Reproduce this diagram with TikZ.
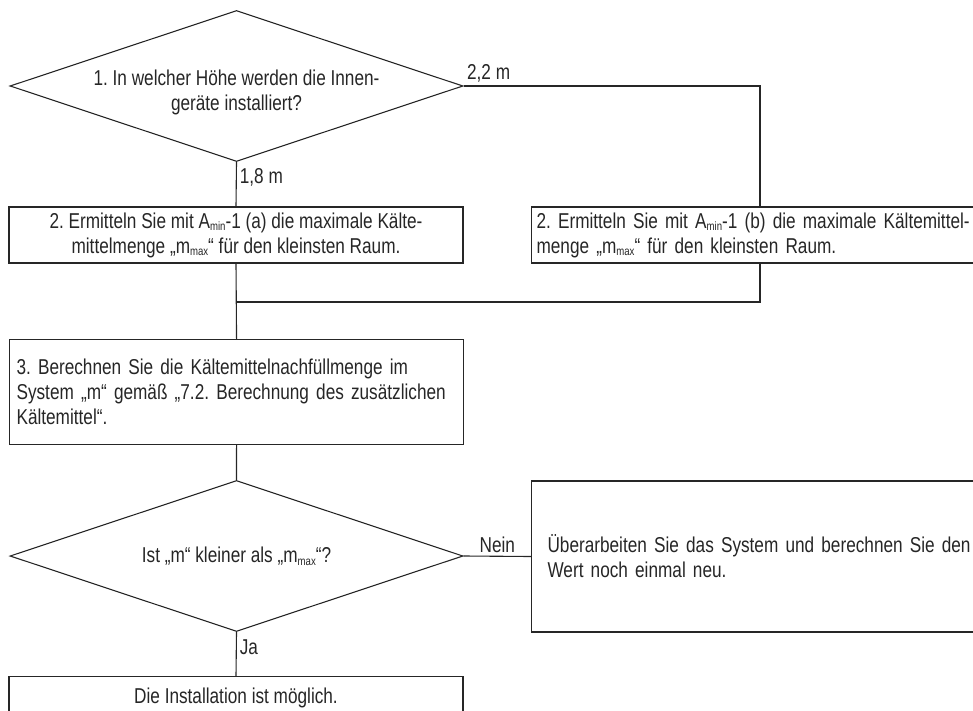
\documentclass[tikz,border=0pt]{standalone}
\usepackage{fontspec}
\setmainfont[FakeStretch=0.8]{Liberation Sans}
\usetikzlibrary{shapes.geometric,positioning}
\newcommand\lowtxt[1]{\raisebox{-0.25ex}{\fontsize{12}{12}\selectfont#1}}
\newcommand\sunk[1]{\raisebox{-6pt}[\height][\depth]{#1}}
\frenchspacing

\begin{document}
\begin{tikzpicture}[x=1pt,y=-1pt,line width=1.1pt,color=black!85,
 every node/.style={font=\fontsize{21.5}{25}\selectfont},
 dec/.style={diamond,draw,aspect=3,inner sep=0pt,minimum width=453pt,minimum height=151pt,align=center},
 box/.style={draw,rectangle,inner ysep=0pt,minimum width=454pt},
 lab/.style={inner sep=3pt}]
\useasboundingbox (0,0) rectangle (973,711);
% decisions and steps
\node[dec] (hoehe) at (236.5,86) {\sunk{1. In welcher Höhe werden die Innen-}\\\sunk{geräte installiert?}};
\node[box,minimum height=56pt,align=center] (ermA) at (236,235)
 {2. Ermitteln Sie mit A\lowtxt{min}-1 (a) die maximale Kälte-\\mittelmenge „m\lowtxt{max}“ für den kleinsten Raum.};
\node[box,anchor=west,minimum height=56pt,text width=480pt,inner xsep=5pt,align=left] (ermB) at (531,235)
 {2. Ermitteln Sie mit A\lowtxt{min}-1 (b) die maximale Kältemittel-\\menge „m\lowtxt{max}“ für den kleinsten Raum.};
\node[box,anchor=north west,minimum height=105pt,text width=440pt,inner xsep=7pt,align=left] (rechnen) at (9,339)
 {3. Berechnen Sie die Kältemittelnachfüllmenge im\\System „m“ gemäß „7.2. Berechnung des zusätzlichen\\Kältemittel“.};
\node[dec] (kleiner) at (236.5,556) {Ist „m“ kleiner als „m\lowtxt{max}“?};
\node[box,anchor=west,minimum height=151pt,text width=480pt,inner xsep=16pt,align=left] (neu) at (531,556.5)
 {Überarbeiten Sie das System und berechnen Sie den\\Wert noch einmal neu.};
\node[box,anchor=north,minimum height=42pt] (ok) at (236,676) {Die Installation ist möglich.};
% connectors
\coordinate (r1) at (760,86); \coordinate (r2) at (760,302); \coordinate (m2) at (236,302);
\draw (hoehe.south) -- node[right,lab,pos=0.35]{1,8 m} (ermA.north);
\draw (hoehe.east) node[anchor=south west,lab]{2,2 m} -- (r1) -- (r1 |- ermB.north);
\draw (ermA.south) -- (rechnen.north);
\draw (r1 |- ermB.south) -- (r2) -- (m2);
\draw (rechnen.south) -- (kleiner.north);
\draw (kleiner.east) -- node[above,lab]{Nein} (neu.west);
\draw (kleiner.south) -- node[right,lab,pos=0.35]{Ja} (ok.north);
\end{tikzpicture}
\end{document}
